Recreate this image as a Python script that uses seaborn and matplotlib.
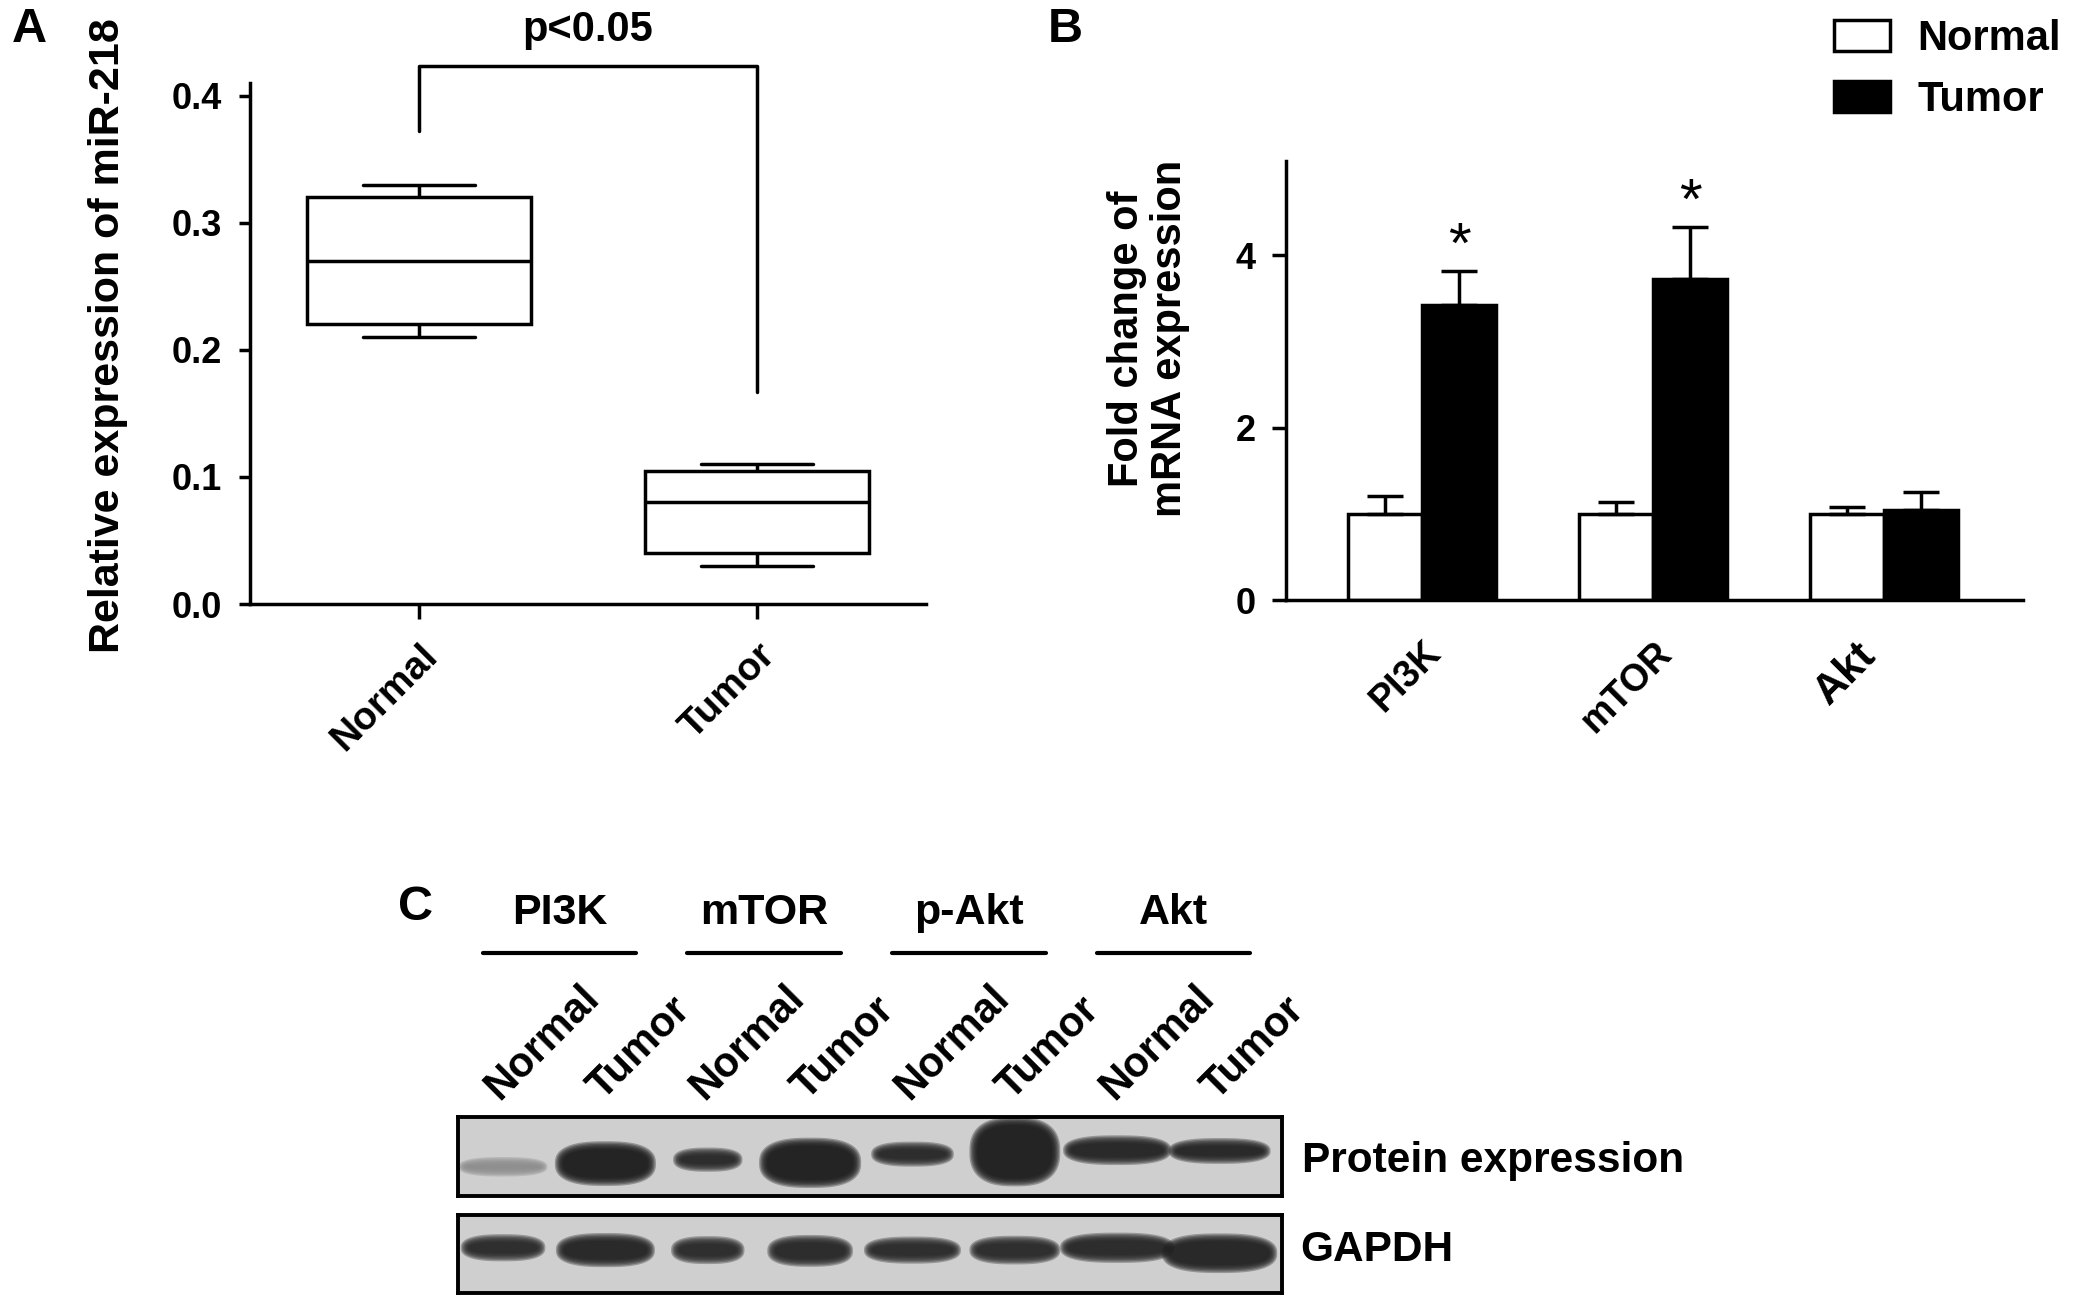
import numpy as np
import pandas as pd
import seaborn as sns
import matplotlib.pyplot as plt
import matplotlib.transforms as mtransforms
from matplotlib.patches import Patch

# A) miR-218 expression, five-number summary per group
groups_a = ['Normal', 'Tumor']
normal_a = [0.21, 0.22, 0.27, 0.32, 0.33]
tumor_a = [0.03, 0.04, 0.08, 0.105, 0.11]
bracket_a = [0.372, 0.423, 0.423, 0.167]

# B) fold change of mRNA expression (mean + upper SD)
genes = ['PI3K', 'mTOR', 'Akt']
normal_mean = [1.0, 1.0, 1.0]
normal_err = [0.21, 0.14, 0.08]
tumor_mean = [3.42, 3.72, 1.04]
tumor_err = [0.40, 0.61, 0.21]
signif = ['*', '*', '']

# C) western blot, one band per lane
blot_groups = ['PI3K', 'mTOR', 'p-Akt', 'Akt']
lanes = ['Normal', 'Tumor'] * 4
prot_pos = [0.37, 0.41, 0.46, 0.42, 0.53, 0.56, 0.58, 0.57]
prot_width = [0.77, 0.89, 0.58, 0.90, 0.71, 0.79, 0.96, 0.90]
prot_height = [0.12, 0.44, 0.18, 0.51, 0.19, 0.75, 0.25, 0.20]
prot_shade = [0.55, 0.10, 0.14, 0.10, 0.14, 0.10, 0.13, 0.13]
gapdh_pos = [0.58, 0.55, 0.55, 0.54, 0.55, 0.55, 0.58, 0.51]
gapdh_width = [0.73, 0.87, 0.62, 0.74, 0.85, 0.79, 1.02, 1.03]
gapdh_height = [0.22, 0.31, 0.23, 0.28, 0.22, 0.24, 0.26, 0.38]
gapdh_shade = [0.15, 0.13, 0.15, 0.14, 0.15, 0.15, 0.14, 0.12]

sns.set_theme(style='ticks', rc={
    'text.color': 'black', 'axes.labelcolor': 'black', 'axes.edgecolor': 'black',
    'xtick.color': 'black', 'ytick.color': 'black', 'axes.linewidth': 2.5,
    'font.weight': 'bold', 'axes.labelweight': 'bold'})
plt.rcParams['font.family'] = ['Liberation Sans', 'DejaVu Sans']

W, H = 2079, 1306
fig = plt.figure(figsize=(W / 100, H / 100), dpi=100)


def rect(x0, y0, x1, y1):
    # pixel box -> figure fraction
    return [x0 / W, 1 - y1 / H, (x1 - x0) / W, (y1 - y0) / H]


def rotate_labels(ax, ha, size=None):
    for lab in ax.get_xticklabels():
        lab.set_rotation(45)
        lab.set_ha(ha)
        lab.set_rotation_mode('anchor')
        lab.set_fontweight('bold')
        if size:
            lab.set_fontsize(size)


# ---------------- A ----------------
ax_a = fig.add_axes(rect(250, 83, 926, 604))
df_a = pd.DataFrame({'group': ['Normal'] * 5 + ['Tumor'] * 5, 'value': normal_a + tumor_a})
sns.boxplot(data=df_a, x='group', y='value', order=groups_a, ax=ax_a, width=0.66,
            whis=(0, 100), color='white', linecolor='black', linewidth=2.5,
            showfliers=False, saturation=1)
ax_a.set_xlim(-0.5, 1.5)
ax_a.set_ylim(0, 0.41)
ax_a.set_yticks([0, 0.1, 0.2, 0.3, 0.4])
ax_a.set_yticklabels(['0.0', '0.1', '0.2', '0.3', '0.4'])
ax_a.plot([0, 0, 1, 1], bracket_a, color='black', lw=2.5, clip_on=False)
ax_a.text(0.5, 0.452, 'p<0.05', ha='center', va='center', fontsize=30, fontweight='bold', clip_on=False)
sns.despine(ax=ax_a)
ax_a.set_xlabel('')
ax_a.set_ylabel('Relative expression of miR-218', fontsize=31, fontweight='bold')
ax_a.yaxis.set_label_coords(-0.18, 0.515)
ax_a.tick_params(axis='y', length=8, width=2.5, pad=12, labelsize=26)
ax_a.tick_params(axis='x', length=11, width=2.5, pad=13, labelsize=28)
rotate_labels(ax_a, 'right')
for lab in ax_a.get_yticklabels():
    lab.set_fontweight('bold')

# ---------------- B ----------------
ax_b = fig.add_axes(rect(1286, 161, 2023, 600))
df_b = pd.DataFrame({'gene': genes * 2, 'group': ['Normal'] * 3 + ['Tumor'] * 3,
                     'fold': normal_mean + tumor_mean})
sns.barplot(data=df_b, x='gene', y='fold', hue='group', hue_order=['Normal', 'Tumor'],
            palette={'Normal': 'white', 'Tumor': 'black'}, edgecolor='black', linewidth=2.5,
            width=0.64, errorbar=None, saturation=1, legend=False, ax=ax_b)
for cont, errs in zip(ax_b.containers, [normal_err, tumor_err]):
    xs = [p.get_x() + p.get_width() / 2 for p in cont]
    ys = [p.get_height() for p in cont]
    ax_b.errorbar(xs, ys, yerr=[np.zeros(len(errs)), errs], fmt='none', ecolor='black',
                  elinewidth=2.5, capsize=13, capthick=2.5)
for p, err, s in zip(ax_b.containers[1], tumor_err, signif):
    ax_b.text(p.get_x() + p.get_width() / 2, p.get_height() + err + 0.26, s,
              ha='center', va='center', fontsize=42, fontweight='normal')
ax_b.set_xlim(-0.59, 2.6)
ax_b.set_ylim(0, 5.09)
ax_b.set_yticks([0, 2, 4])
sns.despine(ax=ax_b)
ax_b.set_xlabel('')
ax_b.set_ylabel('Fold change of\nmRNA expression', fontsize=30, fontweight='bold', linespacing=1.1)
ax_b.yaxis.set_label_coords(-0.13, 0.595)
ax_b.tick_params(axis='y', length=10, width=2.5, pad=12, labelsize=26)
ax_b.tick_params(axis='x', length=0, pad=25)
rotate_labels(ax_b, 'right')
akt_shift = mtransforms.ScaledTranslation(-28 / 100, 0, fig.dpi_scale_trans)
for lab in ax_b.get_xticklabels():
    if lab.get_text() == 'Akt':
        lab.set_fontsize(31)
        lab.set_transform(lab.get_transform() + akt_shift)
    else:
        lab.set_fontsize(27)
for lab in ax_b.get_yticklabels():
    lab.set_fontweight('bold')

handles = [Patch(facecolor='white', edgecolor='black', linewidth=2.5),
           Patch(facecolor='black', edgecolor='black', linewidth=2.5)]
fig.legend(handles, ['Normal', 'Tumor'], loc='upper left', bbox_to_anchor=(1834 / W, 1 - 19 / H),
           frameon=False, prop={'size': 30, 'weight': 'bold'}, handlelength=1.35, handleheight=0.75,
           handletextpad=0.65, labelspacing=0.5, borderpad=0, borderaxespad=0)

# ---------------- C ----------------
theta = np.linspace(0, 2 * np.pi, 160)


def draw_blot(ax, pos, widths, heights, shades):
    ax.set_xlim(-0.44, 7.61)
    ax.set_ylim(0, 1)
    ax.set_facecolor('#cfcfcf')
    bb = ax.get_position()
    px_x = bb.width * W / 8.05      # pixels per lane
    px_y = bb.height * H            # pixels per unit height
    ct, st = np.cos(theta), np.sin(theta)
    ex, ey = np.sign(ct) * np.abs(ct) ** 0.75, np.sign(st) * np.abs(st) ** 0.8
    for i, (y, w, h, s) in enumerate(zip(pos, widths, heights, shades)):
        for d in np.linspace(5, -3, 7):
            bw = max(w + 2 * d / px_x, 0.02)
            bh = max(h + 2 * d / px_y, 0.02)
            ax.fill(i + bw / 2 * ex, y + bh / 2 * ey, color=str(s), alpha=0.33, lw=0)
    ax.set_yticks([])
    for sp in ax.spines.values():
        sp.set_linewidth(2.8)
        sp.set_visible(True)


ax_p = fig.add_axes(rect(458, 1117, 1282, 1196))
draw_blot(ax_p, prot_pos, prot_width, prot_height, prot_shade)
ax_g = fig.add_axes(rect(458, 1215, 1282, 1293))
draw_blot(ax_g, gapdh_pos, gapdh_width, gapdh_height, gapdh_shade)
ax_g.set_xticks([])

ax_p.xaxis.tick_top()
ax_p.set_xticks(range(len(lanes)))
ax_p.set_xticklabels(lanes)
ax_p.tick_params(axis='x', length=0, pad=7)
rotate_labels(ax_p, 'left', size=30)
shift = mtransforms.ScaledTranslation(3 / 100, 0, fig.dpi_scale_trans)
for lab in ax_p.get_xticklabels():
    lab.set_va('bottom')
    lab.set_transform(lab.get_transform() + shift)

blend = mtransforms.blended_transform_factory(ax_p.transData, ax_p.transAxes)
for k, name in enumerate(blot_groups):
    cx = 2 * k + 0.55
    ax_p.text(cx, 3.58, name, transform=blend, ha='center', va='center', fontsize=31,
              fontweight='bold', clip_on=False)
    ax_p.plot([cx - 0.75, cx + 0.75], [3.08, 3.08], transform=blend, color='black', lw=3,
              clip_on=False)

ax_p.text(1.024, 0.44, 'Protein expression', transform=ax_p.transAxes, ha='left', va='center',
          fontsize=30.5, fontweight='bold')
ax_g.text(1.022, 0.55, 'GAPDH', transform=ax_g.transAxes, ha='left', va='center',
          fontsize=30.5, fontweight='bold')

# panel letters
fig.text(29 / W, 1 - 29 / H, 'A', ha='center', va='center', fontsize=35, fontweight='bold')
fig.text(1065 / W, 1 - 29 / H, 'B', ha='center', va='center', fontsize=35, fontweight='bold')
fig.text(415 / W, 1 - 908 / H, 'C', ha='center', va='center', fontsize=35, fontweight='bold')

fig.savefig('out.png', dpi=100)
